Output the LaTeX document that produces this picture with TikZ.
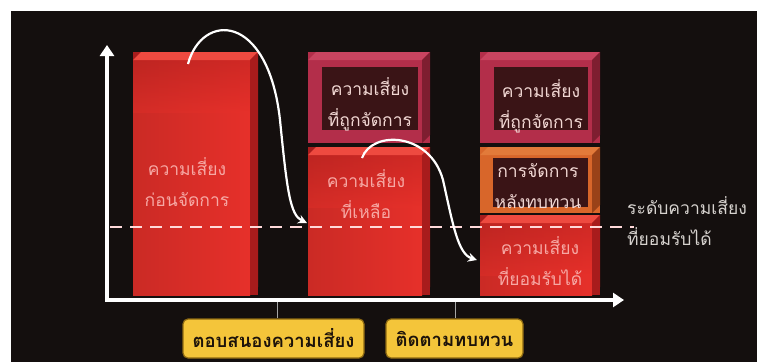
\documentclass[tikz,border=0pt]{standalone}
\usepackage{fontspec}
\newfontfamily\thai[Script=Thai]{Loma}
\usetikzlibrary{arrows.meta}
\definecolor{bgblack}{HTML}{140F0E}
\definecolor{redfront}{HTML}{E6302A}
\definecolor{reddark}{HTML}{A81C1C}
\definecolor{redtop}{HTML}{EE4A40}
\definecolor{pinkframe}{HTML}{B32E4A}
\definecolor{pinktop}{HTML}{C94460}
\definecolor{pinkdark}{HTML}{7E1E30}
\definecolor{innerdark}{HTML}{3A1416}
\definecolor{orframe}{HTML}{D8662A}
\definecolor{ortop}{HTML}{E27A3A}
\definecolor{ordark}{HTML}{9A4218}
\definecolor{txtpink}{HTML}{F6A8A4}
\definecolor{txtlight}{HTML}{F2D8D4}
\definecolor{txtgray}{HTML}{D6D2CE}
\definecolor{yel}{HTML}{F4C53A}
\definecolor{yelborder}{HTML}{8E6A12}
\tikzset{
  bartext/.style={font=\thai\fontsize{17.5}{31}\selectfont, align=center, inner sep=0pt},
  redtxt/.style={bartext, text=txtpink},
  darktxt/.style={bartext, text=txtlight},
  ylabel/.style={draw=yelborder, line width=1.2pt, fill=yel, rounded corners=5pt,
    font=\thai\bfseries\fontsize{18.5}{22}\selectfont, text=black!85!brown, inner sep=0pt},
  axis/.style={white, line width=3.5pt, -{Triangle[length=11pt,width=14pt]}},
  flow/.style={white, line width=2.2pt, -{Stealth[length=9pt,width=9pt]}},
  tick/.style={gray!70, line width=0.8pt},
}
% red bevel box: x1,y1,x2,y2
\newcommand{\redbox}[4]{%
  \fill[reddark] (#1,#2) rectangle (#3,#4);
  \shade[left color=redfront!88!black, right color=redfront] (#1,#2+8) rectangle (#3-8,#4);
  \shade[top color=reddark, bottom color=redfront, opacity=0.35] (#1,#2+8) rectangle (#3-8,#2+60);
  \fill[redtop] (#1,#2+8) -- (#1+8,#2) -- (#3,#2) -- (#3-8,#2+8) -- cycle;
  \fill[reddark] (#3-8,#2+8) -- (#3,#2) -- (#3,#4-8) -- (#3-8,#4) -- cycle;
}
% framed bevel box: x1,y1,x2,y2, frame, top, dark
\newcommand{\frbox}[7]{%
  \fill[#5] (#1,#2) rectangle (#3,#4);
  \fill[#6] (#1,#2+8) -- (#1+8,#2) -- (#3,#2) -- (#3-8,#2+8) -- cycle;
  \fill[#7] (#3-8,#2+8) -- (#3,#2) -- (#3,#4-8) -- (#3-8,#4) -- cycle;
}
\begin{document}
\begin{tikzpicture}[x=1pt,y=-1pt]
\useasboundingbox (0,0) rectangle (757,362);
\fill[white] (0,0) rectangle (757,362);
\fill[bgblack] (11,11) rectangle (757,362);

% bar 1
\redbox{133}{52}{258}{295}
% bar 2
\frbox{308}{52}{430}{143}{pinkframe}{pinktop}{pinkdark}
\fill[innerdark] (322,67) rectangle (418,130);
\redbox{308}{147}{430}{295}
% bar 3
\frbox{480}{52}{600}{143}{pinkframe}{pinktop}{pinkdark}
\fill[innerdark] (494,67) rectangle (588,130);
\frbox{480}{147}{600}{213}{orframe}{ortop}{ordark}
\fill[innerdark] (493,158) rectangle (588,207);
\redbox{480}{215}{600}{295}

% texts
\node[redtxt] (t1) at (187,182) {ความเสี่ยง\\ก่อนจัดการ};
\node[darktxt] (t2) at (370,104) {ความเสี่ยง\\ที่ถูกจัดการ};
\node[redtxt] (t3) at (366,194) {ความเสี่ยง\\ที่เหลือ};
\node[darktxt] (t4) at (541,106) {ความเสี่ยง\\ที่ถูกจัดการ};
\node[darktxt] (t5) at (538,186) {การจัดการ\\หลังทบทวน};
\node[redtxt] (t6) at (540,261) {ความเสี่ยง\\ที่ยอมรับได้};
\node[bartext, text=txtgray, align=left, anchor=north west] (lvl) at (627,196) {ระดับความเสี่ยง\\ที่ยอมรับได้};

% axes
\coordinate (origin) at (107,300);
\coordinate (ytop) at (107,45);
\coordinate (xend) at (624,300);
\draw[axis] (origin) -- (ytop);
\draw[axis] ([xshift=-1.75pt]origin) -- (xend);

% dashed acceptable level
\coordinate (d1) at (110,227);
\coordinate (d2) at (634,227);
\draw[white!85!red, line width=2.4pt, dash pattern=on 12pt off 8pt] (d1) -- (d2);

% curved arrows
\coordinate (a1s) at (188,64);
\coordinate (a1e) at (307,223);
\draw[flow] (a1s) .. controls (202,12) and (268,12) .. (280,120) .. controls (287,190) and (290,215) .. (a1e);
\coordinate (a2s) at (362,158);
\coordinate (a2e) at (477,260);
\draw[flow] (a2s) .. controls (372,130) and (430,132) .. (443,180) .. controls (453,225) and (458,254) .. (a2e);

% ticks and labels
\node[ylabel, minimum width=181pt, minimum height=39pt] (l1) at (273.5,338.5) {ตอบสนองความเสี่ยง};
\node[ylabel, minimum width=137pt, minimum height=39pt] (l2) at (454.5,338.5) {ติดตามทบทวน};
\draw[tick] (277,302) -- (l1.north -| 277,0);
\draw[tick] (455,302) -- (l2.north -| 455,0);
\end{tikzpicture}
\end{document}
